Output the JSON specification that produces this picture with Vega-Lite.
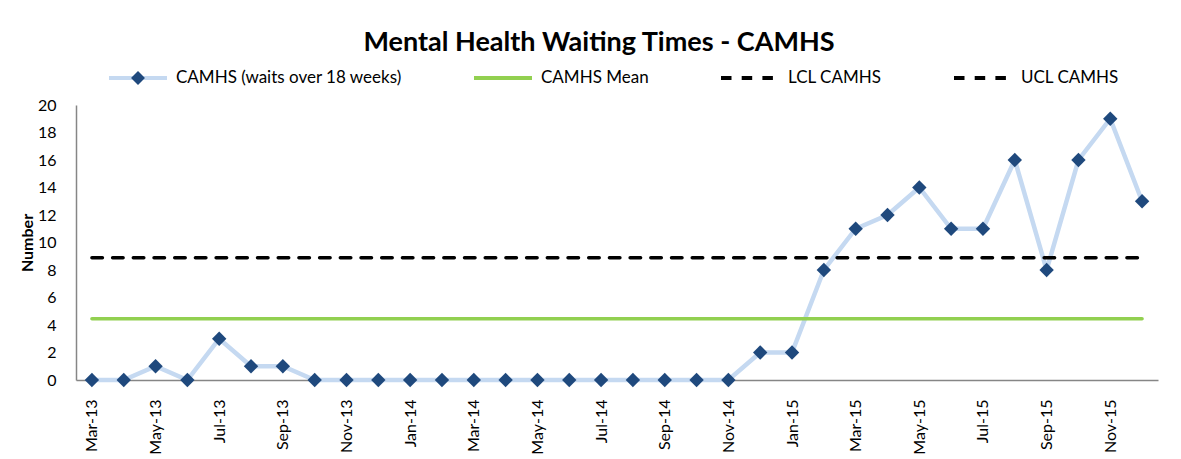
{
  "$schema": "https://vega.github.io/schema/vega-lite/v6.json",
  "width": 1082,
  "height": 275,
  "autosize": "none",
  "padding": {"left": 76, "top": 105, "right": 23, "bottom": 79},
  "background": "white",
  "title": {"text": "Mental Health Waiting Times - CAMHS", "fontSize": 27, "fontWeight": "bold", "color": "#000000", "anchor": "middle", "frame": "group", "dx": -18, "offset": -10},
  "config": {
    "font": "Lato",
    "view": {"stroke": null},
    "axis": {"labelOverlap": false, "grid": false, "ticks": false, "labelColor": "#000000", "domainColor": "#868686", "domainWidth": 1.5},
    "legend": {"orient": "none", "legendX": 31, "legendY": -58, "direction": "horizontal", "symbolSize": 3364, "labelFontSize": 17, "labelLimit": 500, "labelColor": "#000000", "padding": 0, "columnPadding": 64, "labelOffset": 7}
  },
  "datasets": {
    "camhs": [
      {"month": "Mar-13", "value": 0, "series": "CAMHS (waits over 18 weeks)"},
      {"month": "Apr-13", "value": 0, "series": "CAMHS (waits over 18 weeks)"},
      {"month": "May-13", "value": 1, "series": "CAMHS (waits over 18 weeks)"},
      {"month": "Jun-13", "value": 0, "series": "CAMHS (waits over 18 weeks)"},
      {"month": "Jul-13", "value": 3, "series": "CAMHS (waits over 18 weeks)"},
      {"month": "Aug-13", "value": 1, "series": "CAMHS (waits over 18 weeks)"},
      {"month": "Sep-13", "value": 1, "series": "CAMHS (waits over 18 weeks)"},
      {"month": "Oct-13", "value": 0, "series": "CAMHS (waits over 18 weeks)"},
      {"month": "Nov-13", "value": 0, "series": "CAMHS (waits over 18 weeks)"},
      {"month": "Dec-13", "value": 0, "series": "CAMHS (waits over 18 weeks)"},
      {"month": "Jan-14", "value": 0, "series": "CAMHS (waits over 18 weeks)"},
      {"month": "Feb-14", "value": 0, "series": "CAMHS (waits over 18 weeks)"},
      {"month": "Mar-14", "value": 0, "series": "CAMHS (waits over 18 weeks)"},
      {"month": "Apr-14", "value": 0, "series": "CAMHS (waits over 18 weeks)"},
      {"month": "May-14", "value": 0, "series": "CAMHS (waits over 18 weeks)"},
      {"month": "Jun-14", "value": 0, "series": "CAMHS (waits over 18 weeks)"},
      {"month": "Jul-14", "value": 0, "series": "CAMHS (waits over 18 weeks)"},
      {"month": "Aug-14", "value": 0, "series": "CAMHS (waits over 18 weeks)"},
      {"month": "Sep-14", "value": 0, "series": "CAMHS (waits over 18 weeks)"},
      {"month": "Oct-14", "value": 0, "series": "CAMHS (waits over 18 weeks)"},
      {"month": "Nov-14", "value": 0, "series": "CAMHS (waits over 18 weeks)"},
      {"month": "Dec-14", "value": 2, "series": "CAMHS (waits over 18 weeks)"},
      {"month": "Jan-15", "value": 2, "series": "CAMHS (waits over 18 weeks)"},
      {"month": "Feb-15", "value": 8, "series": "CAMHS (waits over 18 weeks)"},
      {"month": "Mar-15", "value": 11, "series": "CAMHS (waits over 18 weeks)"},
      {"month": "Apr-15", "value": 12, "series": "CAMHS (waits over 18 weeks)"},
      {"month": "May-15", "value": 14, "series": "CAMHS (waits over 18 weeks)"},
      {"month": "Jun-15", "value": 11, "series": "CAMHS (waits over 18 weeks)"},
      {"month": "Jul-15", "value": 11, "series": "CAMHS (waits over 18 weeks)"},
      {"month": "Aug-15", "value": 16, "series": "CAMHS (waits over 18 weeks)"},
      {"month": "Sep-15", "value": 8, "series": "CAMHS (waits over 18 weeks)"},
      {"month": "Oct-15", "value": 16, "series": "CAMHS (waits over 18 weeks)"},
      {"month": "Nov-15", "value": 19, "series": "CAMHS (waits over 18 weeks)"},
      {"month": "Dec-15", "value": 13, "series": "CAMHS (waits over 18 weeks)"}
    ],
    "refs": [
      {"series": "CAMHS Mean", "value": 4.45, "month": "Mar-13", "end": "Dec-15"},
      {"series": "LCL CAMHS", "value": -0.6, "month": "Mar-13", "end": "Dec-15"},
      {"series": "UCL CAMHS", "value": 8.9, "month": "Mar-13", "end": "Dec-15"}
    ]
  },
  "encoding": {
    "x": {
      "field": "month", "type": "ordinal", "sort": null, "title": null,
      "scale": {"type": "point", "padding": 0.5, "domain": ["Mar-13","Apr-13","May-13","Jun-13","Jul-13","Aug-13","Sep-13","Oct-13","Nov-13","Dec-13","Jan-14","Feb-14","Mar-14","Apr-14","May-14","Jun-14","Jul-14","Aug-14","Sep-14","Oct-14","Nov-14","Dec-14","Jan-15","Feb-15","Mar-15","Apr-15","May-15","Jun-15","Jul-15","Aug-15","Sep-15","Oct-15","Nov-15","Dec-15"]},
      "axis": {"values": ["Mar-13","May-13","Jul-13","Sep-13","Nov-13","Jan-14","Mar-14","May-14","Jul-14","Sep-14","Nov-14","Jan-15","Mar-15","May-15","Jul-15","Sep-15","Nov-15"], "labelAngle": -90, "labelPadding": 19, "labelFontSize": 16}
    },
    "y": {
      "field": "value", "type": "quantitative", "title": "Number",
      "scale": {"domain": [0, 20], "nice": false},
      "axis": {"titleFontSize": 16, "titleFontWeight": "bold", "titleColor": "#000000", "titleX": -49, "titleY": 137.5, "titleAngle": -90, "titleAlign": "center", "titleBaseline": "middle", "values": [0,2,4,6,8,10,12,14,16,18,20], "labelPadding": 20, "labelFontSize": 16}
    }
  },
  "layer": [
    {
      "data": {"name": "camhs"},
      "mark": {"type": "line", "strokeWidth": 4.5},
      "encoding": {
        "color": {
          "field": "series", "type": "nominal",
          "scale": {"domain": ["CAMHS (waits over 18 weeks)", "CAMHS Mean", "LCL CAMHS", "UCL CAMHS"], "range": ["#c5d9f1", "#92d050", "#000000", "#000000"]},
          "legend": {"title": null, "symbolType": "stroke", "symbolStrokeWidth": 4}
        }
      }
    },
    {
      "data": {"name": "camhs"},
      "mark": {"type": "point", "filled": true, "size": 3600, "opacity": 1, "color": "#1f497d"},
      "encoding": {
        "shape": {
          "field": "series", "type": "nominal",
          "scale": {"domain": ["CAMHS (waits over 18 weeks)"], "range": ["M0,-0.24L0.24,0L0,0.24L-0.24,0Z"]},
          "legend": {"title": null, "labelOpacity": 0, "symbolFillColor": "#1f497d", "symbolStrokeColor": "transparent", "symbolStrokeWidth": 4}
        }
      }
    },
    {
      "data": {"name": "refs"},
      "mark": {"type": "rule", "strokeWidth": 3.5, "clip": true, "strokeCap": "round"},
      "encoding": {
        "x2": {"field": "end"},
        "color": {"field": "series", "type": "nominal", "legend": {"title": null, "symbolType": "stroke", "symbolStrokeWidth": 4}},
        "strokeDash": {
          "field": "series", "type": "nominal",
          "scale": {"domain": ["CAMHS (waits over 18 weeks)", "CAMHS Mean", "LCL CAMHS", "UCL CAMHS"], "range": [[1, 0], [1, 0], [10.5, 10.2], [10.5, 10.2]]},
          "legend": {"title": null, "symbolType": "stroke", "symbolStrokeWidth": 4}
        }
      }
    }
  ]
}
